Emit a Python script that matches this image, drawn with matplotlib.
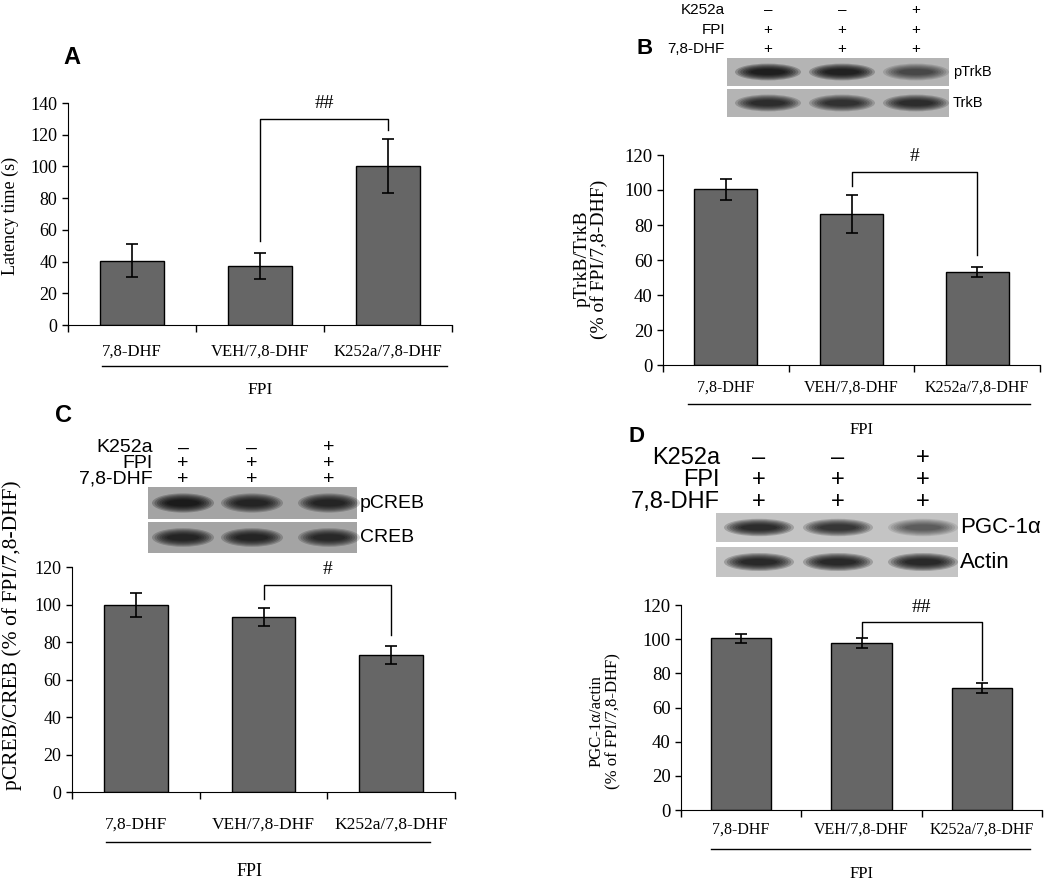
import matplotlib
matplotlib.use("Agg")
from matplotlib import pyplot as plt
from matplotlib import transforms
from matplotlib.patches import Rectangle, Ellipse

W, H = 1050, 880

categories = ["7,8-DHF", "VEH/7,8-DHF", "K252a/7,8-DHF"]

# panel A - latency
latency_mean = [40.5, 37.5, 100.5]
latency_err = [10.5, 8.2, 17.0]
latency_bracket = [53, 130, 123]

# panel B - pTrkB/TrkB
ptrkb_mean = [100.3, 86.3, 53.2]
ptrkb_err = [6.0, 11.0, 2.7]
ptrkb_bracket = [102, 110.5, 63]

# panel C - pCREB/CREB
pcreb_mean = [99.8, 93.4, 73.1]
pcreb_err = [6.4, 5.0, 4.8]
pcreb_bracket = [103, 110.4, 84]

# panel D - PGC-1a/actin
pgc_mean = [100.6, 97.8, 71.5]
pgc_err = [2.6, 3.1, 3.1]
pgc_bracket = [101.5, 110.2, 76]

# blot header rows and relative band darkness per lane
header_rows = ["K252a", "FPI", "7,8-DHF"]
header_signs = [["–", "–", "+"], ["+", "+", "+"], ["+", "+", "+"]]
ptrkb_band = [1.0, 0.95, 0.55]
trkb_band = [0.8, 0.75, 0.8]
pcreb_band = [1.0, 0.85, 0.85]
creb_band = [0.85, 0.85, 0.8]
pgc_band = [0.85, 0.75, 0.45]
actin_band = [0.9, 0.9, 0.9]

SERIF = "Liberation Serif"
SANS = "Liberation Sans"
BAR = "#666666"

plt.rcParams["font.family"] = [SERIF, "DejaVu Serif"]

fig = plt.figure(figsize=(W / 100, H / 100), dpi=100)

ov = fig.add_axes([0, 0, 1, 1])
ov.set_xlim(0, W)
ov.set_ylim(H, 0)
ov.axis("off")
ov.patch.set_visible(False)


def add_ax(x0, y0, x1, y1):
    return fig.add_axes([x0 / W, 1 - y1 / H, (x1 - x0) / W, (y1 - y0) / H])


def bar_panel(ax, means, errs, ymax, bracket, mark, tick_fs):
    xs = range(len(means))
    ax.bar(xs, means, width=0.5, color=BAR, edgecolor="black", linewidth=1, zorder=2)
    ax.errorbar(xs, means, yerr=errs, fmt="none", ecolor="black", elinewidth=1.2,
                capsize=4, capthick=1.2, zorder=3)
    ax.set_xlim(-0.5, 2.5)
    ax.set_ylim(0, ymax)
    ax.set_yticks(range(0, ymax + 1, 20))
    ax.set_xticks([-0.5, 0.5, 1.5, 2.5])
    ax.set_xticklabels([])
    ax.tick_params(axis="x", direction="out", length=5, width=1)
    ax.tick_params(axis="y", direction="out", length=4, width=1, labelsize=tick_fs)
    ax.spines["top"].set_visible(False)
    ax.spines["right"].set_visible(False)
    ax.patch.set_visible(False)
    # significance bracket between group 2 and 3
    ax.plot([1, 1, 2, 2], [bracket[0], bracket[1], bracket[1], bracket[2]],
            color="black", lw=1, clip_on=False)
    ax.text(1.5, bracket[1] + (ymax * 0.07), mark, ha="center", va="center",
            fontsize=14, clip_on=False)


def cat_labels(ax, y_lab, line_y, line_x, fpi_xy, fs):
    tr = transforms.blended_transform_factory(ax.transData, ov.transData)
    for i, c in enumerate(categories):
        ax.text(i, y_lab, c, transform=tr, ha="center", va="center", fontsize=fs)
    ov.plot(line_x, [line_y, line_y], color="black", lw=1)
    ov.text(fpi_xy[0], fpi_xy[1], "FPI", ha="center", va="center", fontsize=fs + 0.5)


def blot(x0, x1, rows, lanes, label_x, bg, fs, band_w):
    for (y0, y1, name, dark) in rows:
        ov.add_patch(Rectangle((x0, y0), x1 - x0, y1 - y0, color=bg, lw=0))
        bh = (y1 - y0) * 0.6
        for cx, s in zip(lanes, dark):
            for k in range(7):
                ov.add_patch(Ellipse((cx, (y0 + y1) / 2), band_w * (1 - k * 0.08),
                                     bh * (1 - k * 0.11), color="black",
                                     alpha=0.22 * s, lw=0))
        ov.text(label_x, (y0 + y1) / 2, name, ha="left", va="center",
                fontsize=fs, family=SANS)


def header(right_x, ys, lanes, fs):
    for row, y, signs in zip(header_rows, ys, header_signs):
        ov.text(right_x, y, row, ha="right", va="center", fontsize=fs, family=SANS)
        for cx, s in zip(lanes, signs):
            ov.text(cx, y, s, ha="center", va="center", fontsize=fs, family=SANS)


# ---- A ----
axA = add_ax(68, 103, 452, 325)
bar_panel(axA, latency_mean, latency_err, 140, latency_bracket, "##", 13)
cat_labels(axA, 352, 366, [102, 447], (260, 390), 12)
ov.text(10, 216, "Latency time (s)", rotation=90, ha="center", va="center", fontsize=13)
ov.text(72, 58, "A", ha="center", va="center", fontsize=17, family=SANS, weight="bold")

# ---- B ----
axB = add_ax(663, 155, 1040, 365)
bar_panel(axB, ptrkb_mean, ptrkb_err, 120, ptrkb_bracket, "#", 13.5)
cat_labels(axB, 388, 404, [688, 1030], (862, 430), 11.5)
ov.text(591, 259, "pTrkB/TrkB\n(% of FPI/7,8-DHF)", rotation=90, ha="center",
        va="center", fontsize=14, linespacing=1.0)
ov.text(645, 48, "B", ha="center", va="center", fontsize=16, family=SANS, weight="bold")
lanesB = [768, 842, 916]
header(725, [10, 30, 49], lanesB, 11)
blot(727, 949, [(58, 86, "pTrkB", ptrkb_band), (89, 117, "TrkB", trkb_band)],
     lanesB, 953, "#b4b4b4", 10.5, 66)

# ---- C ----
axC = add_ax(72, 567, 455, 792)
bar_panel(axC, pcreb_mean, pcreb_err, 120, pcreb_bracket, "#", 13)
cat_labels(axC, 825, 842, [106, 430], (250, 872), 12.5)
ov.text(12, 635, "pCREB/CREB (% of FPI/7,8-DHF)", rotation=90, ha="center",
        va="center", fontsize=15.5)
ov.text(63, 415, "C", ha="center", va="center", fontsize=17, family=SANS, weight="bold")
lanesC = [183, 252, 329]
header(153, [448, 464, 479], lanesC, 14)
blot(148, 357, [(487, 519, "pCREB", pcreb_band), (522, 553, "CREB", creb_band)],
     lanesC, 360, "#a4a4a4", 14, 62)

# ---- D ----
axD = add_ax(681, 605, 1042, 810)
bar_panel(axD, pgc_mean, pgc_err, 120, pgc_bracket, "##", 13.5)
cat_labels(axD, 830, 849, [711, 1030], (862, 874), 11.5)
ov.text(605, 721, "PGC-1α/actin\n(% of FPI/7,8-DHF)", rotation=90, ha="center",
        va="center", fontsize=12, linespacing=1.0)
ov.text(637, 437, "D", ha="center", va="center", fontsize=16, family=SANS, weight="bold")
lanesD = [759, 838, 923]
header(720, [458, 480, 502], lanesD, 17)
blot(716, 958, [(513, 542, "PGC-1α", pgc_band), (547, 577, "Actin", actin_band)],
     lanesD, 960, "#c4c4c4", 16, 70)

fig.savefig("out.png", dpi=100)
